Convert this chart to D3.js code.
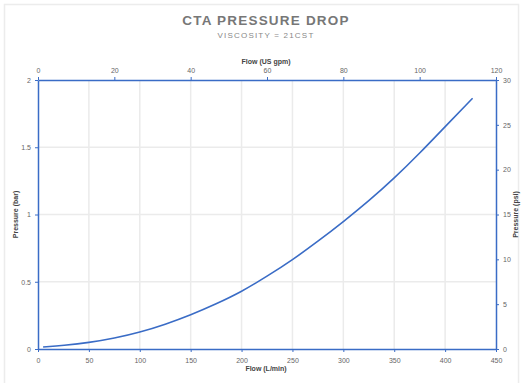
<!DOCTYPE html>
<meta charset="utf-8">
<html>
<script src="https://d3js.org/d3.v7.min.js"></script>
<style>
  body { margin: 0; background: #fff; }
  text { font-family: "Liberation Sans", Arial, sans-serif; }
</style>
<div id="chart"></div>
<script>

// flow in L/min and pressure drop in bar
var flowLmin = [5, 25, 50, 75, 100, 125, 150, 175, 200, 225, 250, 275, 300, 325, 350, 375, 400, 427];
var pressureBar = [0.015, 0.027, 0.047, 0.08, 0.124, 0.183, 0.253, 0.335, 0.426, 0.54, 0.662, 0.80, 0.946, 1.10, 1.269, 1.455, 1.653, 1.864];

var ticksLmin = [0, 50, 100, 150, 200, 250, 300, 350, 400, 450];
var ticksGpm = [0, 20, 40, 60, 80, 100, 120];
var ticksBar = [0, 0.5, 1, 1.5, 2];
var ticksPsi = [0, 5, 10, 15, 20, 25, 30];

var width = 523,
    height = 383;
var margin = {top: 80, right: 27, bottom: 34, left: 38};
var blue = "#3a6cc6";

var svg = d3.select("#chart")
  .append("svg")
    .attr("width", width)
    .attr("height", height);

// outer light frame
svg.append("rect")
  .attr("x", 4.5).attr("y", 4.5)
  .attr("width", 514).attr("height", 390)
  .attr("fill", "none")
  .attr("stroke", "#ececec")
  .attr("stroke-width", 1.5);

var x = d3.scaleLinear().domain([0, 450]).range([margin.left, width - margin.right]);
var xTop = d3.scaleLinear().domain([0, 120]).range([margin.left, width - margin.right]);
var y = d3.scaleLinear().domain([0, 2]).range([height - margin.bottom, margin.top]);
var yRight = d3.scaleLinear().domain([0, 30]).range([height - margin.bottom, margin.top]);

// grid
svg.append("g")
  .selectAll("line")
  .data(ticksLmin.slice(1, -1))
  .enter().append("line")
    .attr("x1", function(d) { return x(d); })
    .attr("x2", function(d) { return x(d); })
    .attr("y1", margin.top)
    .attr("y2", height - margin.bottom)
    .attr("stroke", "#ebebeb")
    .attr("stroke-width", 1.5);

svg.append("g")
  .selectAll("line")
  .data(ticksBar.slice(1, -1))
  .enter().append("line")
    .attr("x1", margin.left)
    .attr("x2", width - margin.right)
    .attr("y1", function(d) { return y(d); })
    .attr("y2", function(d) { return y(d); })
    .attr("stroke", "#ebebeb")
    .attr("stroke-width", 1.5);

function styleAxis(g) {
  g.select(".domain").attr("stroke", blue).attr("stroke-width", 1.5);
  g.selectAll(".tick line").attr("stroke", blue).attr("stroke-width", 1);
  g.selectAll(".tick text")
    .attr("fill", "#666")
    .style("font-size", "7px");
}

svg.append("g")
  .attr("transform", "translate(0," + (height - margin.bottom) + ")")
  .call(d3.axisBottom(x).tickValues(ticksLmin).tickSize(3).tickSizeOuter(0).tickPadding(6))
  .call(styleAxis);

svg.append("g")
  .attr("transform", "translate(0," + margin.top + ")")
  .call(d3.axisTop(xTop).tickValues(ticksGpm).tickSize(3).tickSizeOuter(0).tickPadding(4))
  .call(styleAxis);

svg.append("g")
  .attr("transform", "translate(" + margin.left + ",0)")
  .call(d3.axisLeft(y).tickValues(ticksBar).tickSize(3).tickSizeOuter(0).tickPadding(4).tickFormat(d3.format("")))
  .call(styleAxis);

svg.append("g")
  .attr("transform", "translate(" + (width - margin.right) + ",0)")
  .call(d3.axisRight(yRight).tickValues(ticksPsi).tickSize(3).tickSizeOuter(0).tickPadding(4))
  .call(styleAxis);

// the curve
var line = d3.line()
  .x(function(d) { return x(d[0]); })
  .y(function(d) { return y(d[1]); })
  .curve(d3.curveBasis);

svg.append("path")
  .datum(d3.zip(flowLmin, pressureBar))
  .attr("d", line)
  .attr("fill", "none")
  .attr("stroke", blue)
  .attr("stroke-width", 1.6);

// titles
svg.append("text")
  .attr("x", 266).attr("y", 25)
  .attr("text-anchor", "middle")
  .attr("fill", "#777")
  .style("font-size", "13.5px")
  .style("font-weight", "bold")
  .style("letter-spacing", "1.2px")
  .text("CTA PRESSURE DROP");

svg.append("text")
  .attr("x", 266).attr("y", 38)
  .attr("text-anchor", "middle")
  .attr("fill", "#888")
  .style("font-size", "8px")
  .style("letter-spacing", "1.2px")
  .text("VISCOSITY = 21CST");

svg.append("text")
  .attr("x", 266).attr("y", 64)
  .attr("text-anchor", "middle")
  .attr("fill", "#444")
  .style("font-size", "7px")
  .style("font-weight", "bold")
  .text("Flow (US gpm)");

svg.append("text")
  .attr("x", 266).attr("y", 371)
  .attr("text-anchor", "middle")
  .attr("fill", "#444")
  .style("font-size", "7px")
  .style("font-weight", "bold")
  .text("Flow (L/min)");

svg.append("text")
  .attr("transform", "translate(18," + y(1) + ") rotate(-90)")
  .attr("text-anchor", "middle")
  .attr("fill", "#444")
  .style("font-size", "7px")
  .style("font-weight", "bold")
  .text("Pressure (bar)");

svg.append("text")
  .attr("transform", "translate(518," + y(1) + ") rotate(-90)")
  .attr("text-anchor", "middle")
  .attr("fill", "#444")
  .style("font-size", "7px")
  .style("font-weight", "bold")
  .text("Pressure (psi)");

</script>
</html>
